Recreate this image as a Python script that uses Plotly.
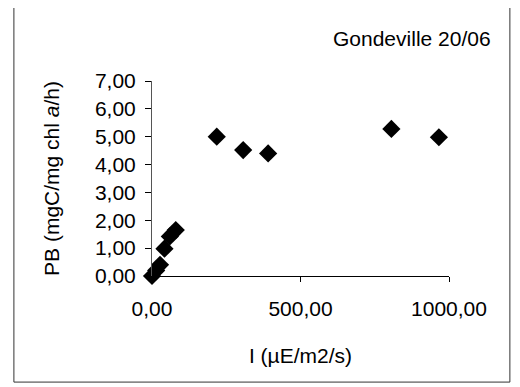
import plotly.graph_objects as go

irradiance = [0, 14, 27, 42, 60, 80, 218, 307, 391, 806, 966]
pb_values = [0.0, 0.2, 0.4, 0.98, 1.42, 1.65, 5.0, 4.52, 4.40, 5.28, 4.98]

x_ticks = [0, 500, 1000]
y_ticks = [0, 1, 2, 3, 4, 5, 6, 7]

font_family = "Liberation Sans, Arial, sans-serif"

fig = go.Figure()
fig.add_trace(go.Scatter(
    x=irradiance, y=pb_values, mode="markers",
    marker=dict(symbol="diamond", size=14, color="black", line=dict(width=0)),
    cliponaxis=False, showlegend=False,
))

# page body has an 8px default margin, so the figure is sized to fit the window
fig.update_layout(
    width=512, height=379,
    margin=dict(l=144, r=71, t=73, b=111),
    paper_bgcolor="white", plot_bgcolor="white",
    separators=",.",
    font=dict(family=font_family, size=21, color="black"),
    xaxis=dict(
        range=[0, 1000], tickvals=x_ticks, tickformat=".2f",
        showgrid=False, zeroline=False, showline=True, linecolor="black", linewidth=1,
        ticks="outside", ticklen=5, tickcolor="black",
        ticklabelstandoff=9, automargin=False,
        title=dict(text="I (µE/m2/s)", standoff=29, font=dict(size=21)),
    ),
    yaxis=dict(
        range=[0, 7], tickvals=y_ticks, tickformat=".2f",
        showgrid=False, zeroline=False, showline=True, linecolor="#555", linewidth=1,
        ticks="outside", ticklen=6, tickcolor="black",
        ticklabelstandoff=5, automargin=False,
        title=dict(text="PB (mgC/mg chl <i>a</i>/h)", standoff=29, font=dict(size=21)),
    ),
    annotations=[dict(
        text="Gondeville 20/06", xref="paper", yref="paper",
        x=0.875, y=1.22, xanchor="center", yanchor="middle",
        showarrow=False, font=dict(size=21),
    )],
    shapes=[dict(
        type="rect", xref="paper", yref="paper",
        x0=-0.465, x1=1.205, y0=-0.544, y1=1.39,
        line=dict(color="#333", width=1), layer="below",
    )],
)

fig.write_html("out.html")
